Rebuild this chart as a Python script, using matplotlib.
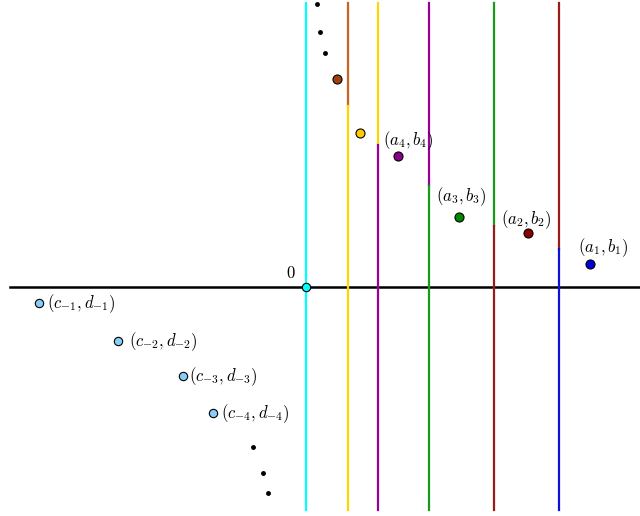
import matplotlib
matplotlib.use("Agg")
import matplotlib.pyplot as plt

plt.rcParams["mathtext.fontset"] = "cm"

# vertical lines: x position, height where colour changes, upper colour, lower colour
line_x = [0, 42, 72, 123, 188, 253]
line_break = [None, 181, 142, 101, 61, 38]
line_upper = ["#00ffff", "#c8641e", "#ffd700", "#990099", "#1a9a1a", "#9b1b1b"]
line_lower = ["#00ffff", "#ffd700", "#990099", "#1a9a1a", "#9b1b1b", "#1010dd"]
line_top = 284
line_bottom = -223

# points (a_k, b_k) and the two unlabelled ones above
pt_x = [284, 222, 153, 92, 54, 31]
pt_y = [23, 54, 70, 131, 154, 208]
pt_color = ["#0000dd", "#8b0000", "#008800", "#8b008b", "#ffcc00", "#a0400a"]
pt_label = [r"$(a_1, b_1)$", r"$(a_2, b_2)$", r"$(a_3, b_3)$", r"$(a_4, b_4)$", None, None]
pt_label_off = [(-12, 16), (-27, 13), (-23, 20), (-15, 15), None, None]

# points (c_-k, d_-k)
c_x = [-267, -188, -123, -93]
c_y = [-16, -54, -89, -126]
c_label = [r"$(c_{-1}, d_{-1})$", r"$(c_{-2}, d_{-2})$",
           r"$(c_{-3}, d_{-3})$", r"$(c_{-4}, d_{-4})$"]
c_label_off = [8, 11, 6, 8]

# ellipsis dots
dots_up_x = [11, 14, 19]
dots_up_y = [283, 255, 234]
dots_low_x = [-53, -43, -38]
dots_low_y = [-160, -186, -206]

fig = plt.figure(figsize=(6.4, 5.16), dpi=100)
ax = fig.add_axes([0, 0, 1, 1])
ax.set_xlim(-306, 334)
ax.set_ylim(-229, 287)
ax.axis("off")

# horizontal axis
ax.plot([-296, 334], [0, 0], color="black", lw=1.8, zorder=2)

for x, b, cu, cl in zip(line_x, line_break, line_upper, line_lower):
    if b is None:
        ax.plot([x, x], [line_bottom, line_top], color=cu, lw=1.6, zorder=3)
    else:
        ax.plot([x, x], [b, line_top], color=cu, lw=1.6, zorder=3)
        ax.plot([x, x], [line_bottom, b], color=cl, lw=1.6, zorder=3)

# origin point
ax.plot(0, 0, "o", ms=6, mfc="#00ffff", mec="black", mew=0.8, zorder=5)
ax.text(-15, 14, "$0$", fontsize=12, ha="center", va="center")

for x, y, c, lab, off in zip(pt_x, pt_y, pt_color, pt_label, pt_label_off):
    ax.plot(x, y, "o", ms=6.5, mfc=c, mec="black", mew=0.8, zorder=5)
    if lab:
        ax.text(x + off[0], y + off[1], lab, fontsize=12, ha="left", va="center")

for x, y, lab, off in zip(c_x, c_y, c_label, c_label_off):
    ax.plot(x, y, "o", ms=6, mfc="#87cefa", mec="black", mew=0.8, zorder=5)
    ax.text(x + off, y - 1, lab, fontsize=12, ha="left", va="center")

ax.plot(dots_up_x, dots_up_y, "o", ms=2.5, color="black", ls="none", zorder=5)
ax.plot(dots_low_x, dots_low_y, "o", ms=2.5, color="black", ls="none", zorder=5)

fig.savefig("out.png", dpi=100)
